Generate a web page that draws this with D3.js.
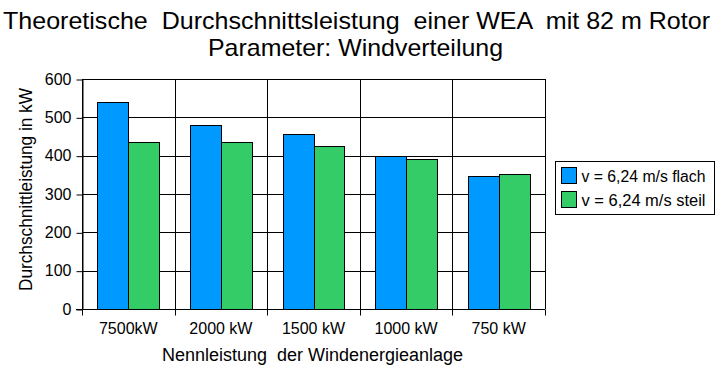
<!DOCTYPE html>
<html>
<head>
<meta charset="utf-8">
<script src="https://cdn.jsdelivr.net/npm/d3@7"></script>
<style>
  body { margin: 0; background: #fff; }
  text { font-family: "Liberation Sans", Arial, sans-serif; fill: #000; white-space: pre; }
</style>
</head>
<body>
<div id="chart"></div>
<script>
// Data
const categories = ["7500kW", "2000 kW", "1500 kW", "1000 kW", "750 kW"];
const seriesNames = ["v = 6,24 m/s flach", "v = 6,24 m/s steil"];
const flach = [540, 480, 456, 398, 347];
const steil = [436, 436, 425, 391, 352];
const yTicks = [0, 100, 200, 300, 400, 500, 600];
const colors = ["#0099FF", "#33CC66"];

const width = 728, height = 375;
const margin = { top: 79, right: 183, bottom: 66, left: 82 };

const svg = d3.select("#chart").append("svg")
    .attr("width", width)
    .attr("height", height);

const x = d3.scaleBand()
    .domain(categories)
    .range([margin.left, width - margin.right])
    .paddingInner(0)
    .paddingOuter(0);

// two bars per category, half a bar of space on each side
const inner = d3.scaleBand()
    .domain([0, 1])
    .range([0, x.bandwidth()])
    .paddingOuter(0.5)
    .paddingInner(0);

const y = d3.scaleLinear()
    .domain([0, 600])
    .range([height - margin.bottom, margin.top]);

const px = v => Math.round(v) + 0.5;

// Horizontal gridlines
svg.append("g")
    .selectAll("line")
    .data(yTicks)
    .join("line")
    .attr("x1", margin.left)
    .attr("x2", width - margin.right)
    .attr("y1", d => px(y(d)))
    .attr("y2", d => px(y(d)))
    .attr("stroke", "#000");

// Vertical gridlines at category boundaries
const bounds = categories.map(c => x(c)).concat([width - margin.right]);
svg.append("g")
    .selectAll("line")
    .data(bounds)
    .join("line")
    .attr("x1", d => px(d))
    .attr("x2", d => px(d))
    .attr("y1", margin.top)
    .attr("y2", y(0))
    .attr("stroke", "#000");

// Bars
const rows = categories.map((c, i) => ({ cat: c, vals: [flach[i], steil[i]] }));
svg.append("g")
    .selectAll("g")
    .data(rows)
    .join("g")
    .selectAll("rect")
    .data(d => d.vals.map((v, k) => ({ cat: d.cat, v, k })))
    .join("rect")
    .attr("x", d => px(x(d.cat) + inner(d.k)))
    .attr("y", d => px(y(d.v)))
    .attr("width", d => Math.round(x(d.cat) + inner(d.k) + inner.bandwidth()) - Math.round(x(d.cat) + inner(d.k)))
    .attr("height", d => Math.round(y(0)) - Math.round(y(d.v)))
    .attr("fill", d => colors[d.k])
    .attr("stroke", "#000")
    .attr("stroke-width", 1);

// Y axis
const yAxis = svg.append("g")
    .attr("transform", `translate(${px(margin.left)},0)`)
    .call(d3.axisLeft(y).tickValues(yTicks).tickSize(6).tickPadding(5).tickSizeOuter(0));
yAxis.select(".domain").attr("stroke", "#000");
yAxis.selectAll(".tick line").attr("transform", "translate(0,0.5)");
yAxis.selectAll("text")
    .style("font-size", "16px")
    .style("font-family", "Liberation Sans, Arial, sans-serif");

// X axis: ticks at category boundaries
const xAxisG = svg.append("g")
    .attr("transform", `translate(0,${px(y(0))})`);
xAxisG.append("line")
    .attr("x1", margin.left - 6)
    .attr("x2", width - margin.right)
    .attr("stroke", "#000");
xAxisG.selectAll("line.tick")
    .data(bounds)
    .join("line")
    .attr("class", "tick")
    .attr("x1", d => px(d))
    .attr("x2", d => px(d))
    .attr("y1", 0)
    .attr("y2", 6)
    .attr("stroke", "#000");
xAxisG.selectAll("text")
    .data(categories)
    .join("text")
    .attr("x", d => x(d) + x.bandwidth() / 2)
    .attr("y", 24)
    .attr("text-anchor", "middle")
    .style("font-size", "16px")
    .text(d => d);

// Titles
svg.append("text")
    .attr("x", 3)
    .attr("y", 29)
    .attr("textLength", 707)
    .attr("lengthAdjust", "spacingAndGlyphs")
    .style("font-size", "24px")
    .text("Theoretische  Durchschnittsleistung  einer WEA  mit 82 m Rotor");
svg.append("text")
    .attr("x", 208)
    .attr("y", 56)
    .attr("textLength", 295)
    .attr("lengthAdjust", "spacingAndGlyphs")
    .style("font-size", "24px")
    .text("Parameter: Windverteilung");

svg.append("text")
    .attr("x", 162)
    .attr("y", 361)
    .attr("textLength", 301)
    .attr("lengthAdjust", "spacingAndGlyphs")
    .style("font-size", "18px")
    .text("Nennleistung  der Windenergieanlage");

svg.append("text")
    .attr("transform", "translate(32,291) rotate(-90)")
    .attr("textLength", 203)
    .attr("lengthAdjust", "spacingAndGlyphs")
    .style("font-size", "18px")
    .text("Durchschnittleistung in kW");

// Legend
const legend = svg.append("g").attr("transform", "translate(555.5,161.5)");
legend.append("rect")
    .attr("width", 159)
    .attr("height", 53)
    .attr("fill", "#fff")
    .attr("stroke", "#000");
seriesNames.forEach((name, i) => {
    const g = legend.append("g").attr("transform", `translate(6,${6 + i * 24})`);
    g.append("rect")
        .attr("width", 15)
        .attr("height", 16)
        .attr("fill", colors[i])
        .attr("stroke", "#000");
    g.append("text")
        .attr("x", 20)
        .attr("y", 14)
        .attr("textLength", 124)
        .attr("lengthAdjust", "spacingAndGlyphs")
        .style("font-size", "16px")
        .text(name);
});
</script>
</body>
</html>
